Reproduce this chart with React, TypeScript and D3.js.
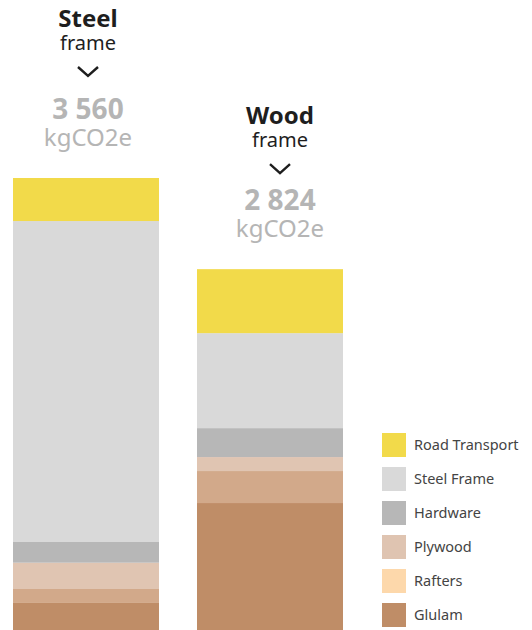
import React from "react";
import * as d3 from "d3";

const WIDTH = 532;
const HEIGHT = 630;

const KEYS = ["Glulam", "Rafters", "Plywood", "Hardware", "Steel Frame", "Road Transport"];
const FRAMES = ["Steel", "Wood"];
const TOTAL_LABELS = ["3 560", "2 824"];
const UNIT = "kgCO2e";

// kgCO2e per component, bottom to top
const STEEL_VALUES = [213, 110, 207, 163, 2528, 339];
const WOOD_VALUES = [1000, 252, 110, 228, 748, 504];

const BAR_COLORS = ["#bf8d67", "#d2a98a", "#e0c5b2", "#b7b7b7", "#d9d9d9", "#f2da4a"];
const LEGEND_COLORS = ["#bf8d67", "#fdd8ab", "#dfc4b1", "#b7b7b7", "#d9d9d9", "#f2da4a"];

const MARGIN = { top: 178, right: 189, bottom: 0, left: 13 };
const LABEL_SHIFT = [2, 10];
const HEADER_DY = [0, 6];
const FONT = "'Noto Sans', 'Open Sans', sans-serif";

export default function App() {
  const rows = FRAMES.map((f, i) => {
    const vals = i === 0 ? STEEL_VALUES : WOOD_VALUES;
    const row: any = { frame: f };
    KEYS.forEach((k, j) => (row[k] = vals[j]));
    return row;
  });

  const series = d3.stack().keys(KEYS)(rows);
  const maxTotal = d3.max(rows, (r) => d3.sum(KEYS, (k) => r[k])) as number;

  const x = d3
    .scaleBand()
    .domain(FRAMES)
    .range([MARGIN.left, WIDTH - MARGIN.right])
    .paddingInner(0.2065);
  const y = d3.scaleLinear().domain([0, maxTotal]).range([HEIGHT - MARGIN.bottom, MARGIN.top]);

  const color = d3.scaleOrdinal<string>().domain(KEYS).range(BAR_COLORS);
  const legendColor = d3.scaleOrdinal<string>().domain(KEYS).range(LEGEND_COLORS);

  const legendKeys = KEYS.slice().reverse();
  const legendY = d3.scalePoint().domain(legendKeys).range([433, 603]);

  return (
    <div style={{ position: "absolute", left: 0, top: 0 }}>
      <svg width={WIDTH} height={HEIGHT} style={{ display: "block", background: "#fff" }}>
        {series.map((s) => (
          <g key={s.key} fill={color(s.key)}>
            {s.map((d) => (
              <rect
                key={d.data.frame}
                x={x(d.data.frame)}
                width={x.bandwidth()}
                y={y(d[1])}
                height={y(d[0]) - y(d[1])}
              />
            ))}
          </g>
        ))}

        {rows.map((r, i) => {
          const total = d3.sum(KEYS, (k) => r[k]);
          const cx = (x(r.frame) as number) + x.bandwidth() / 2 + LABEL_SHIFT[i];
          const base = y(total) - 32;
          const head = base + HEADER_DY[i];
          return (
            <g key={r.frame} textAnchor="middle" fontFamily={FONT}>
              <text x={cx} y={head - 119} fontSize={24} fontWeight={700} fill="#1e1e1e">
                {r.frame}
              </text>
              <text x={cx} y={head - 96} fontSize={20} fill="#1e1e1e">
                frame
              </text>
              <path
                d={`M${cx - 10},${head - 79} L${cx},${head - 70} L${cx + 10},${head - 79}`}
                fill="none"
                stroke="#1e1e1e"
                strokeWidth={2.4}
              />
              <text x={cx} y={base - 27} fontSize={28} fontWeight={700} fill="#b5b5b5">
                {TOTAL_LABELS[i]}
              </text>
              <text x={cx} y={base} fontSize={24} fill="#b5b5b5">
                {UNIT}
              </text>
            </g>
          );
        })}

        <g fontFamily={FONT}>
          {legendKeys.map((k) => (
            <g key={k} transform={`translate(382,${legendY(k)})`}>
              <rect width={24} height={24} fill={legendColor(k)} />
              <text x={32} y={12} dy="0.35em" fontSize={14.5} fill="#444">
                {k}
              </text>
            </g>
          ))}
        </g>
      </svg>
    </div>
  );
}
